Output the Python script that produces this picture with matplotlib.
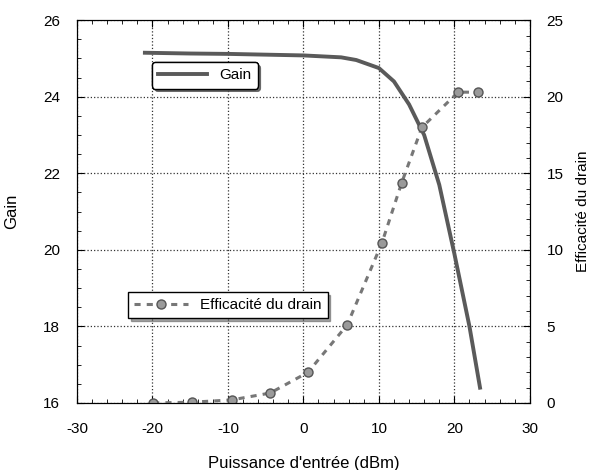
import numpy as np
import matplotlib.pyplot as plt
from matplotlib.ticker import MultipleLocator

plt.rcParams['font.family'] = ['Liberation Sans', 'DejaVu Sans']
plt.rcParams['axes.unicode_minus'] = False

# Gain (axe gauche)
puissance_gain = [-21, -15, -10, -5, 0, 5, 7, 10, 12, 14, 16, 18, 20, 22, 23.4]
gain = [25.15, 25.13, 25.12, 25.1, 25.08, 25.03, 24.96, 24.75, 24.4, 23.8,
        23.0, 21.7, 19.9, 18.0, 16.4]

# Efficacité du drain (axe droit)
puissance_eff = [-19.9, -14.8, -9.5, -4.4, 0.6, 5.8, 10.4, 13.0, 15.7, 20.5, 23.1]
efficacite = [0.0, 0.05, 0.2, 0.65, 2.0, 5.1, 10.45, 14.35, 18.0, 20.3, 20.3]

fig = plt.figure(figsize=(5.92, 4.70), dpi=100)
ax1 = fig.add_axes([0.130, 0.1426, 0.765, 0.8144])
ax2 = ax1.twinx()

l1, = ax1.plot(puissance_gain, gain, color='#5a5a5a', lw=2.8, label='Gain')
l2, = ax2.plot(puissance_eff, efficacite, color='#777777', lw=2.2,
               linestyle=(0, (2, 2)), marker='o', markersize=6.5,
               markerfacecolor='#9a9a9a', markeredgecolor='#555555',
               label='Efficacité du drain')

ax1.set_xlim(-30, 30)
ax1.set_ylim(16, 26)
ax2.set_ylim(0, 25)
ax1.xaxis.set_major_locator(MultipleLocator(10))
ax1.xaxis.set_minor_locator(MultipleLocator(2))
ax1.yaxis.set_major_locator(MultipleLocator(2))
ax1.yaxis.set_minor_locator(MultipleLocator(0.5))
ax2.yaxis.set_major_locator(MultipleLocator(5))
ax2.yaxis.set_minor_locator(MultipleLocator(1))

for ax in (ax1, ax2):
    ax.tick_params(which='both', direction='in', labelsize=11, pad=12)
    ax.tick_params(which='major', length=5)
    ax.tick_params(which='minor', length=3)
ax1.tick_params(axis='x', which='both', top=True, pad=14)

ax1.grid(True, which='major', linestyle=':', color='#333333', lw=0.9)

ax1.set_xlabel("Puissance d'entrée (dBm)", fontsize=12, labelpad=14)
ax1.set_ylabel('Gain', fontsize=12)
ax1.yaxis.set_label_coords(-0.128, 0.5)
ax2.set_ylabel('Efficacité du drain', fontsize=11)
ax2.yaxis.set_label_coords(1.103, 0.5)

leg1 = ax1.legend(handles=[l1], loc='upper left', bbox_to_anchor=(0.166, 0.89),
                  fancybox=True, shadow=True, framealpha=1, edgecolor='black',
                  fontsize=11, handlelength=3.2, borderaxespad=0)
ax1.add_artist(leg1)
leg2 = ax2.legend(handles=[l2], loc='upper left', bbox_to_anchor=(0.113, 0.29),
                  fancybox=False, shadow=True, framealpha=1, edgecolor='black',
                  fontsize=11, handlelength=3.5, borderaxespad=0)

fig.savefig('out.png', dpi=100)
